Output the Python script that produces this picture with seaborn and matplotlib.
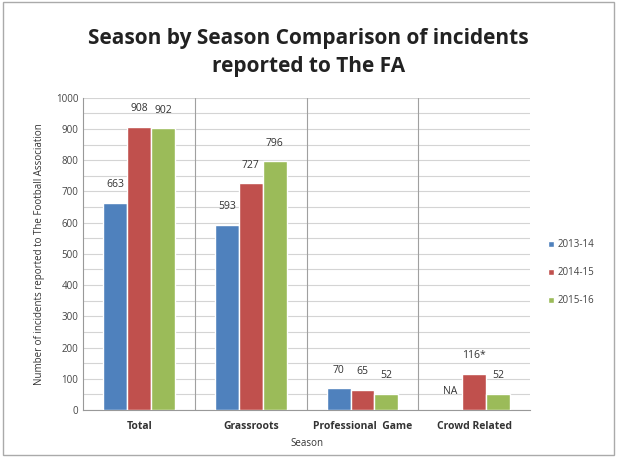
import numpy as np
import pandas as pd
import seaborn as sns
import matplotlib.pyplot as plt
from matplotlib.patches import Rectangle

categories = ['Total', 'Grassroots', 'Professional  Game', 'Crowd Related']
seasons = ['2013-14', '2014-15', '2015-16']
v_2013 = [663, 593, 70, 0]
v_2014 = [908, 727, 65, 116]
v_2015 = [902, 796, 52, 52]
lbl_2013 = ['663', '593', '70', 'NA']
lbl_2014 = ['908', '727', '65', '116*']
lbl_2015 = ['902', '796', '52', '52']

colors = ['#4F81BD', '#C0504D', '#9BBB59']

df = pd.DataFrame({
    'Season': np.repeat(seasons, len(categories)),
    'Category': categories * 3,
    'Value': v_2013 + v_2014 + v_2015,
})

sns.set_style('white')
plt.rcParams['font.family'] = ['Open Sans', 'DejaVu Sans']

fig = plt.figure(figsize=(6.17, 4.57), dpi=100)
ax = fig.add_axes([0.135, 0.103, 0.724, 0.683])

sns.barplot(data=df, x='Category', y='Value', hue='Season', order=categories,
            hue_order=seasons, palette=colors, width=0.64, saturation=1,
            ax=ax, zorder=3)

for cont, labs in zip(ax.containers, [lbl_2013, lbl_2014, lbl_2015]):
    ax.bar_label(cont, labels=labs, padding=9, fontsize=7.5, color='#333333')

ax.set_ylim(0, 1000)
ax.set_yticks(range(0, 1001, 100))
ax.set_yticks(range(0, 1001, 50), minor=True)
ax.grid(axis='y', which='both', color='#d4d4d4', lw=0.8, zorder=0)
for x in [0.5, 1.5, 2.5]:
    ax.axvline(x, color='#a0a0a0', lw=0.8, zorder=1)
ax.set_xlim(-0.5, 3.5)
ax.tick_params(axis='y', labelsize=7, colors='#444444', length=0)
ax.tick_params(axis='x', labelsize=7.5, length=0, pad=8)
for t in ax.get_xticklabels():
    t.set_fontweight('bold')
    t.set_color('#333333')
for s in ['top', 'right']:
    ax.spines[s].set_visible(False)
ax.spines['left'].set_color('#999999')
ax.spines['bottom'].set_color('#999999')

ax.set_xlabel('Season', fontsize=7, color='#333333', labelpad=4)
ax.set_ylabel('Number of incidents reported to The Football Association',
              fontsize=7, color='#333333', labelpad=8)

ax.legend(loc='center left', bbox_to_anchor=(1.02, 0.44), frameon=False,
          fontsize=7, handlelength=0.6, handleheight=0.6, labelspacing=1.75,
          handletextpad=0.4, labelcolor='#444444')

fig.text(0.5, 0.885, 'Season by Season Comparison of incidents\nreported to The FA',
         ha='center', va='center', fontsize=15, fontweight='bold',
         color='#222222', linespacing=1.4)

fig.patches.append(Rectangle((0.005, 0.005), 0.99, 0.99, transform=fig.transFigure,
                             fill=False, edgecolor='#aaaaaa', lw=1))

fig.savefig('out.png', dpi=100, facecolor='white')
